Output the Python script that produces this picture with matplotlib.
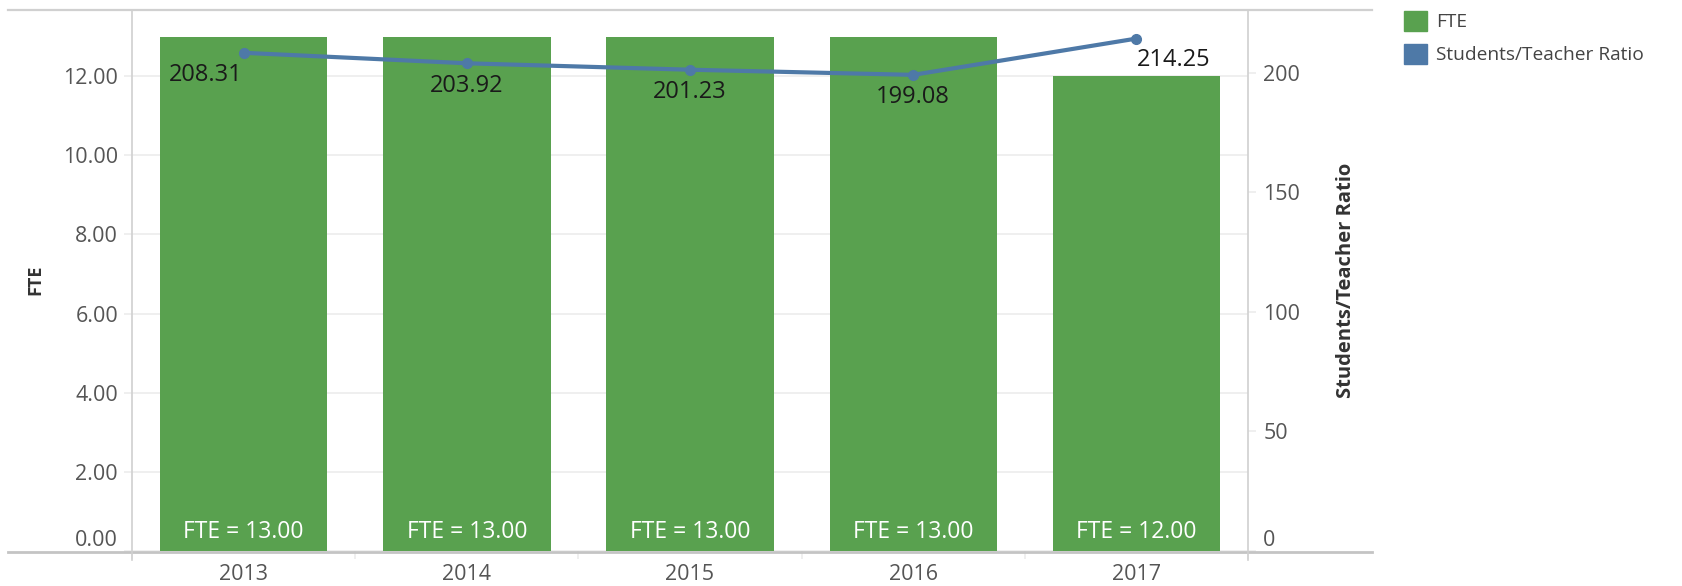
import numpy as np
import matplotlib
matplotlib.use("Agg")
import matplotlib.pyplot as plt
from matplotlib.lines import Line2D
from matplotlib.patches import Patch

plt.rcParams["font.family"] = ["Open Sans", "DejaVu Sans"]

years = ["2013", "2014", "2015", "2016", "2017"]
fte = [13.00, 13.00, 13.00, 13.00, 12.00]
ratio = [208.31, 203.92, 201.23, 199.08, 214.25]

GREEN = "#59a14f"
BLUE = "#4e79a7"
GRID = "#ececec"
FRAME = "#d0d0d0"
TXT = "#555555"

W, H = 1682, 586
fig = plt.figure(figsize=(W / 100, H / 100), dpi=100)
L, R, T, B = 132, 1248, 10, 551
ax = fig.add_axes([L / W, 1 - B / H, (R - L) / W, (B - T) / H])
ax2 = ax.twinx()

x = np.arange(len(years))
ax.bar(x, fte, width=0.75, color=GREEN, zorder=2)
for xi, v in zip(x, fte):
    ax.annotate(f"FTE = {v:.2f}", (xi, 0), textcoords="offset points", xytext=(0, 5),
                ha="center", va="bottom", color="white", fontsize=16.5, zorder=3)

ax.set_xlim(-0.5, len(years) - 0.5)
ax.set_ylim(0, 13.67)
ax.set_yticks(np.arange(0, 13, 2))
ax.set_yticklabels([f"{v:.2f}" for v in np.arange(0, 13, 2)])
ax.grid(axis="y", color=GRID, lw=1.2, zorder=0)
ax.set_axisbelow(True)
ax.set_xticks(x)
ax.set_xticklabels(years)
ax.set_xticks(np.arange(len(years) + 1) - 0.5, minor=True)
ax.tick_params(axis="x", which="major", length=0, pad=9, labelsize=15.5, labelcolor=TXT)
ax.tick_params(axis="x", which="minor", length=6, color=GRID, width=1.2)
ax.tick_params(axis="y", length=6, color=GRID, width=1.2, pad=4, labelsize=15.5, labelcolor=TXT)
ax.set_ylabel("FTE", fontsize=13, fontweight="bold", color="#333333", labelpad=0)
ax.yaxis.set_label_coords(44 / W, 1 - 280 / H, transform=fig.transFigure)

ax2.plot(x, ratio, color=BLUE, lw=3, marker="o", ms=7, zorder=4)
ax2.set_ylim(0, 226.2)
ax2.set_yticks([0, 50, 100, 150, 200])
ax2.tick_params(axis="y", length=6, color=GRID, width=1.2, pad=5, labelsize=15.5, labelcolor=TXT)
ax2.set_ylabel("Students/Teacher Ratio", fontsize=14.5, fontweight="bold", color="#333333")
ax2.yaxis.set_label_coords(1336 / W, 1 - 280 / H, transform=fig.transFigure)

# bottom tick labels sit above the baseline, as in the source
for a in (ax, ax2):
    a.get_yticklabels()[0].set_verticalalignment("bottom")

# label placement per point: (ha, dx pt, dy pt)
lab_pos = [("right", -1, -16), ("center", 0, -16), ("center", 0, -16),
           ("center", 0, -16), ("left", 0, -15.5)]
for xi, v, (ha, dx, dy) in zip(x, ratio, lab_pos):
    ax2.annotate(f"{v:.2f}", (xi, v), textcoords="offset points", xytext=(dx, dy),
                 ha=ha, va="center", fontsize=17, color="#1a1a1a", zorder=5)

for a in (ax, ax2):
    for s in a.spines.values():
        s.set_visible(False)

# frame lines like the source
fig.add_artist(Line2D([8 / W, 1372 / W], [1 - T / H] * 2, color=FRAME, lw=1.6))
fig.add_artist(Line2D([8 / W, 1372 / W], [1 - 552 / H] * 2, color="#c4c4c4", lw=2))
for xv in (L, R):
    fig.add_artist(Line2D([xv / W] * 2, [1 - T / H, 1 - 560 / H], color=FRAME, lw=1.2))

handles = [Patch(color=GREEN, label="FTE"), Patch(color=BLUE, label="Students/Teacher Ratio")]
fig.legend(handles=handles, loc="upper left", bbox_to_anchor=(1404 / W, 1 - 11 / H),
           frameon=False, borderpad=0, borderaxespad=0, fontsize=13.8,
           handlelength=1.2, handleheight=1.23, handletextpad=0.45, labelspacing=0.65,
           labelcolor="#444444")

fig.savefig("out.png", dpi=100)
